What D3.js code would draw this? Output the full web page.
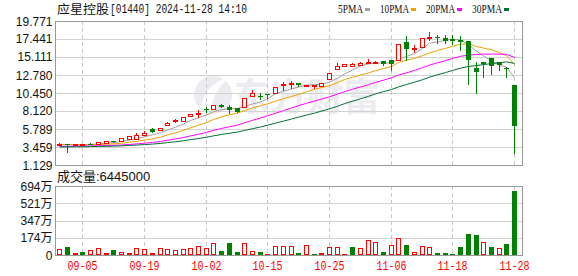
<!DOCTYPE html>
<html>
<head>
<meta charset="utf-8">
<script src="https://cdnjs.cloudflare.com/ajax/libs/d3/7.8.5/d3.min.js"></script>
<style>
  body { margin: 0; background: #fff; }
  svg { display: block; }
</style>
</head>
<body>
<div id="chart"></div>
<script>
const dates = ["09-02","09-03","09-04","09-05","09-09","09-10","09-11","09-12","09-13","09-16",
  "09-17","09-19","09-20","09-23","09-24","09-25","09-26","09-27","09-30","10-02",
  "10-03","10-04","10-07","10-08","10-09","10-10","10-14","10-15","10-16","10-17",
  "10-18","10-21","10-22","10-23","10-24","10-25","10-28","10-29","10-30","10-31",
  "11-01","11-04","11-05","11-06","11-07","11-08","11-11","11-12","11-13","11-14",
  "11-15","11-18","11-19","11-20","11-21","11-22","11-25","11-26","11-27","11-28"];
const prevClose = 3.80;
const open = [3.82,3.80,3.78,3.76,3.90,3.85,3.98,4.18,4.28,4.53,4.55,5.05,5.83,5.70,6.31,6.77,6.87,7.51,7.75,8.38,
  8.35,8.95,8.67,8.45,8.60,10.00,10.10,10.35,10.43,11.50,11.60,11.75,11.45,11.47,11.35,12.22,13.50,13.90,13.95,14.04,
  14.45,14.48,14.60,14.72,14.76,17.02,16.20,16.37,17.70,17.65,17.60,17.50,17.30,17.18,13.73,14.40,14.94,14.43,13.75,11.49];
const high = [3.95,3.82,3.85,3.90,3.92,4.08,4.22,4.20,4.62,4.85,5.27,5.57,5.96,5.95,6.70,7.05,7.32,7.75,8.31,8.60,
  8.92,9.00,8.94,8.50,9.78,10.80,10.50,10.38,11.22,11.84,11.96,11.80,11.55,11.52,11.80,13.10,14.30,14.22,14.30,14.50,
  14.85,14.60,14.62,14.75,16.85,17.79,16.70,17.55,18.30,17.90,17.90,17.90,17.85,17.20,14.43,14.45,14.95,14.45,13.78,11.50];
const low = [3.78,2.77,3.75,3.74,3.82,3.83,3.96,4.10,4.26,4.50,4.50,5.00,5.40,5.68,6.28,6.65,6.85,7.48,7.28,7.99,
  8.30,8.60,7.82,7.95,8.55,9.90,9.67,9.76,10.40,10.88,11.14,11.40,11.40,11.15,11.30,12.20,13.45,13.88,13.90,14.00,
  14.42,14.45,14.10,13.43,14.70,14.76,15.70,16.30,17.27,16.90,16.90,16.80,16.00,11.65,10.49,12.56,12.90,13.43,12.56,2.72];
const close = [3.86,3.70,3.84,3.80,3.84,4.07,4.20,4.12,4.62,4.85,4.97,5.31,5.44,5.92,6.57,6.90,7.30,7.73,7.82,8.30,
  8.90,8.70,8.25,8.00,9.76,10.45,10.00,10.30,11.19,11.58,11.70,11.45,11.50,11.48,11.78,13.08,13.95,14.20,14.15,14.30,
  14.50,14.50,14.15,14.22,16.80,16.15,16.28,17.53,17.74,17.55,17.20,17.15,17.00,14.76,13.21,14.20,13.96,14.02,13.70,6.20];
// 成交量, 单位: 万
const volume = [60,80,20,33,50,67,20,50,27,20,67,60,20,67,60,50,60,67,87,73,
  120,40,120,33,120,40,33,13,87,87,90,23,100,10,20,80,80,10,80,70,
  150,130,30,100,167,100,27,87,77,20,20,10,80,213,200,130,80,70,110,644.5];
const ma5 = [3.80,3.79,3.78,3.78,3.81,3.85,3.95,4.01,4.17,4.37,4.55,4.77,5.04,5.30,5.64,6.03,6.43,6.88,7.26,7.61,
  8.01,8.29,8.39,8.43,8.72,9.03,9.29,9.70,10.34,10.70,10.95,11.24,11.48,11.54,11.58,11.85,12.36,12.90,13.43,13.94,
  14.22,14.33,14.32,14.33,14.83,15.18,15.56,16.20,16.90,17.05,17.26,17.43,17.33,16.73,15.86,15.26,14.62,14.03,13.81,12.42];
const ma10 = [3.78,3.78,3.77,3.77,3.77,3.79,3.82,3.86,3.94,4.09,4.19,4.35,4.52,4.73,5.01,5.29,5.60,5.96,6.28,6.63,
  7.02,7.36,7.64,7.85,8.17,8.52,8.79,9.05,9.39,9.71,9.99,10.27,10.59,10.94,11.15,11.40,11.80,12.19,12.49,12.77,
  13.05,13.35,13.62,13.89,14.39,14.70,14.94,15.28,15.63,15.96,16.23,16.50,16.77,16.83,16.47,16.27,16.04,15.68,15.28,14.14];
const ma20 = [3.55,3.56,3.57,3.58,3.60,3.62,3.65,3.68,3.72,3.79,3.86,3.95,4.05,4.17,4.33,4.50,4.69,4.90,5.11,5.35,
  5.61,5.86,6.08,6.29,6.59,6.91,7.20,7.50,7.83,8.17,8.51,8.81,9.12,9.40,9.66,9.96,10.30,10.62,10.94,11.24,
  11.52,11.81,12.11,12.42,12.77,13.06,13.37,13.73,14.06,14.36,14.64,14.92,15.20,15.36,15.43,15.49,15.49,15.48,15.45,15.05];
const ma30 = [3.46,3.47,3.48,3.49,3.51,3.53,3.55,3.57,3.61,3.66,3.71,3.77,3.84,3.92,4.03,4.14,4.27,4.41,4.56,4.72,
  4.90,5.08,5.24,5.39,5.60,5.83,6.05,6.28,6.54,6.81,7.07,7.33,7.59,7.84,8.11,8.41,8.73,9.07,9.39,9.70,
  10.02,10.33,10.62,10.90,11.24,11.55,11.85,12.17,12.50,12.81,13.09,13.37,13.66,13.89,14.00,14.13,14.26,14.38,14.47,14.29];
const priceTicks = ["1.129","3.459","5.789","8.120","10.450","12.780","15.111","17.441","19.771"];
const volTicks = [0, 174, 347, 521, 694];
const dateTicks = ["09-05","09-19","10-02","10-15","10-25","11-06","11-18","11-28"];
const maNames = ["5PMA","10PMA","20PMA","30PMA"];
const maColors = ["#a0a0a0","#f0a000","#ff00ff","#006f35"];
const title = "应星控股";
const titleInfo = "[01440] 2024-11-28 14:10";
const volTitle = "成交量:6445000";

const width = 578;
const height = 276;
const L = 56, R = 522;
const pTop = 21, pBot = 165, vTop = 186, vBot = 255;
const RED = "#ff0000", GREEN = "#008000";

const svg = d3.select("#chart").append("svg")
  .attr("width", width).attr("height", height)
  .attr("viewBox", `0 0 ${width} ${height}`);

const idx = d3.range(dates.length);
const x = d3.scaleBand().domain(idx).range([L, 518.4]).paddingInner(0.35).paddingOuter(0.175);
const cx = (i) => Math.floor(x(i) + x.bandwidth() / 2);
const y = d3.scaleLinear().domain([+priceTicks[0], +priceTicks[priceTicks.length - 1]]).range([pBot, pTop]);
const vy = d3.scaleLinear().domain([0, volTicks[volTicks.length - 1]]).range([vBot, vTop]);

// watermark
const wm = svg.append("g").attr("fill", "#ececf0");
wm.append("circle").attr("cx", 213).attr("cy", 95).attr("r", 19);
wm.append("path").attr("d", "M200,108 C205,90 215,80 228,78 C218,88 212,98 210,112 Z").attr("fill", "#fff");
wm.append("text").attr("x", 234).attr("y", 110)
  .attr("font-family", "'Noto Sans CJK SC'").attr("font-weight", "bold")
  .attr("font-size", 38).attr("textLength", 146).attr("lengthAdjust", "spacingAndGlyphs")
  .text("东方财富");

// grids
const grid = svg.append("g").attr("shape-rendering", "crispEdges");
priceTicks.forEach((t) => {
  const yy = Math.round(y(+t)) + 0.5;
  grid.append("line").attr("x1", L).attr("x2", R).attr("y1", yy).attr("y2", yy).attr("stroke", "#d2d2d2");
});
volTicks.forEach((t) => {
  const yy = Math.round(vy(t)) + 0.5;
  grid.append("line").attr("x1", L).attr("x2", R).attr("y1", yy).attr("y2", yy).attr("stroke", "#d2d2d2");
});
dateTicks.forEach((d) => {
  const xx = cx(dates.indexOf(d)) + 0.5;
  [[pTop, pBot], [vTop, vBot]].forEach(([a, b]) => {
    grid.append("line").attr("x1", xx).attr("x2", xx).attr("y1", a).attr("y2", b)
      .attr("stroke", "#c8c8c8").attr("stroke-dasharray", "4,3");
  });
});
[[pTop, pBot], [vTop, vBot]].forEach(([a, b]) => {
  grid.append("rect").attr("x", L - 0.5).attr("y", a + 0.5).attr("width", R - L + 1).attr("height", b - a)
    .attr("fill", "none").attr("stroke", "#999");
});

// moving averages
const maData = [ma5, ma10, ma20, ma30];
const line = d3.line().x((d, i) => cx(i) + 0.5).y((d) => y(d));
maData.forEach((s, k) => {
  svg.append("path").attr("d", line(s)).attr("fill", "none")
    .attr("stroke", maColors[k]).attr("stroke-width", 1);
});

// candles
const cg = svg.append("g").attr("shape-rendering", "crispEdges");
idx.forEach((i) => {
  const up = close[i] >= open[i];
  const col = up ? RED : GREEN;
  const c = cx(i);
  const top = Math.round(y(Math.max(open[i], close[i])));
  const bot = Math.round(y(Math.min(open[i], close[i])));
  const hi = Math.round(y(high[i]));
  const lo = Math.round(y(low[i]));
  const h = bot - top;
  if (up && h >= 2) {
    cg.append("line").attr("x1", c + 0.5).attr("x2", c + 0.5).attr("y1", hi).attr("y2", top).attr("stroke", col);
    cg.append("line").attr("x1", c + 0.5).attr("x2", c + 0.5).attr("y1", bot + 1).attr("y2", lo).attr("stroke", col);
    cg.append("rect").attr("x", c - 1.5).attr("y", top + 0.5).attr("width", 4).attr("height", h)
      .attr("fill", "#fff").attr("stroke", col);
  } else {
    cg.append("line").attr("x1", c + 0.5).attr("x2", c + 0.5).attr("y1", hi).attr("y2", lo + 1).attr("stroke", col);
    cg.append("rect").attr("x", c - 2).attr("y", top).attr("width", 5).attr("height", Math.max(h, 1) + (up ? 1 : 0))
      .attr("fill", col);
  }
});

// volume
const vg = svg.append("g").attr("shape-rendering", "crispEdges");
idx.forEach((i) => {
  const pc = i === 0 ? prevClose : close[i - 1];
  const rise = close[i] >= pc;
  const c = cx(i);
  const t = Math.round(vy(volume[i]));
  const h = vBot - t;
  if (rise && h >= 3) {
    vg.append("rect").attr("x", c - 1.5).attr("y", t + 0.5).attr("width", 4).attr("height", h - 1)
      .attr("fill", "#fff").attr("stroke", RED);
  } else {
    vg.append("rect").attr("x", c - 2).attr("y", t).attr("width", 5).attr("height", Math.max(h, 1))
      .attr("fill", rise ? RED : GREEN);
  }
});

// axis labels
const lab = svg.append("g").attr("font-family", "'Liberation Sans', Arial, 'Noto Sans CJK SC'")
  .attr("font-size", 12).attr("fill", "#111").attr("text-anchor", "end");
priceTicks.forEach((t) => {
  lab.append("text").attr("x", 52.5).attr("y", y(+t) + 4.5).text(t);
});
volTicks.forEach((t) => {
  lab.append("text").attr("x", 52.5).attr("y", vy(t) + 4.5).text(t === 0 ? "0" : t + "万");
});
const xl = svg.append("g").attr("font-family", "'Liberation Mono', monospace").attr("font-size", 12)
  .attr("fill", RED).attr("text-anchor", "middle");
dateTicks.forEach((d) => {
  xl.append("text").attr("x", cx(dates.indexOf(d)) + 0.5).attr("y", 270)
    .attr("textLength", 30).attr("lengthAdjust", "spacingAndGlyphs").text(d);
});

// title
svg.append("text").attr("x", 57).attr("y", 13.5).attr("font-family", "'Noto Sans CJK SC'")
  .attr("font-size", 12.5).attr("fill", "#111").attr("textLength", 52).attr("lengthAdjust", "spacingAndGlyphs")
  .text(title);
svg.append("text").attr("x", 110).attr("y", 12.5).attr("font-family", "'Liberation Mono', monospace")
  .attr("font-size", 12).attr("fill", "#111").attr("textLength", 137).attr("lengthAdjust", "spacingAndGlyphs")
  .text(titleInfo);
svg.append("text").attr("x", 57).attr("y", 181).attr("font-family", "'Liberation Sans', 'Noto Sans CJK SC'")
  .attr("font-size", 13).attr("fill", "#111").text(volTitle);

// legend
const legX = [338, 380, 426, 472];
const legW = [25, 29, 29, 30];
maNames.forEach((n, k) => {
  svg.append("text").attr("x", legX[k]).attr("y", 12.5).attr("font-family", "'Liberation Serif', serif")
    .attr("font-size", 12).attr("fill", "#111").attr("textLength", legW[k])
    .attr("lengthAdjust", "spacingAndGlyphs").text(n);
  svg.append("rect").attr("x", legX[k] + legW[k] + 2).attr("y", 8).attr("width", 5).attr("height", 3)
    .attr("fill", maColors[k]);
});
</script>
</body>
</html>
